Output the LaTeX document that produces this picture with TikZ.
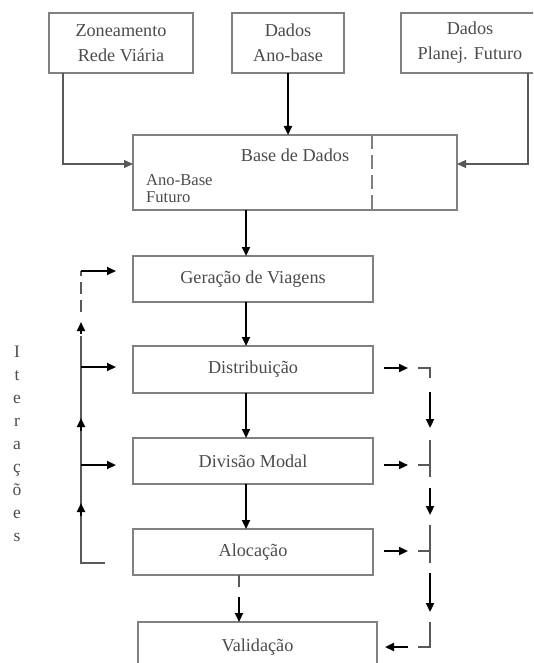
\documentclass[tikz,border=0pt]{standalone}
\usepackage{fontspec}
\setmainfont{Liberation Serif}
\usetikzlibrary{arrows.meta,calc}
\definecolor{boxline}{gray}{0.5}
\definecolor{txt}{gray}{0.3}
\definecolor{thinline}{gray}{0.35}
\begin{document}
\begin{tikzpicture}[x=1pt,y=-1pt,
  box/.style={draw=boxline,line width=1.3pt,rectangle,inner sep=0pt,outer sep=0pt,
    text=txt,font=\fontsize{18.2}{25}\selectfont,align=center},
  link/.style={draw=thinline,line width=1.2pt},
  feed/.style={link,-{Triangle[length=9pt,width=8pt]}},
  bold/.style={draw=black,line width=2.2pt,-{Triangle[length=9pt,width=8pt]}},
  dashlink/.style={link,dash pattern=on 12pt off 6pt},
  label/.style={text=txt,inner sep=0pt}]
\useasboundingbox (0,0) rectangle (533,663);
\fill[white] (0,0) rectangle (533,663);
\clip (0,0) rectangle (533,663);

% input boxes
\node[box,minimum width=144pt,minimum height=60pt] (zon) at (121,43) {Zoneamento\\Rede Viária};
\node[box,minimum width=112pt,minimum height=60pt] (anob) at (288,43) {Dados\\Ano-base};
\node[box,minimum width=138pt,minimum height=60pt] (plan) at (470,43) {Dados\\Planej. Futuro};

% data base
\node[box,minimum width=324pt,minimum height=75pt] (base) at (295,172.5) {};
\node[label,anchor=base,font=\fontsize{18.2}{20}\selectfont] (basetitle) at (295,161) {Base de Dados};
\node[label,anchor=base west,font=\fontsize{16.6}{18}\selectfont] (anobase) at (146,185) {Ano-Base};
\node[label,anchor=base west,font=\fontsize{16.6}{18}\selectfont] (futuro) at (146,202) {Futuro};
\coordinate (split) at (372,0);
\draw[draw=boxline,line width=1.2pt,dash pattern=on 14pt off 6pt] (base.north -| split) -- (base.south -| split);

% model stages
\node[box,minimum width=240pt,minimum height=46pt] (ger) at (253,279) {Geração de Viagens};
\node[box,minimum width=240pt,minimum height=47pt] (dist) at (253,369.5) {Distribuição};
\node[box,minimum width=240pt,minimum height=46pt] (div) at (253,461) {Divisão Modal};
\node[box,minimum width=240pt,minimum height=46pt] (aloc) at (253,552) {Alocação};
\node[box,minimum width=239pt,minimum height=50pt] (val) at (257.5,647) {Validação};

% vertical label
\foreach \ch [count=\i from 0] in {I,t,e,r,a,ç,õ,e,s}
  \node[label,anchor=base,font=\fontsize{17.5}{20}\selectfont] (iter\i) at (17,{357+23.1*\i}) {\ch};

% inputs into the data base
\coordinate (zonturn) at (63,164);
\coordinate (planturn) at (528,164);
\draw[feed] (zon.south -| zonturn) -- (zonturn) -- (base.west |- zonturn);
\draw[feed] (plan.south -| planturn) -- (planturn) -- (base.east |- planturn);
\draw[bold] (anob.south) -- (anob.south |- base.north);

% main sequence
\coordinate (spine) at (246,0);
\draw[bold] (base.south -| spine) -- (ger.north -| spine);
\draw[bold] (ger.south -| spine) -- (dist.north -| spine);
\draw[bold] (dist.south -| spine) -- (div.north -| spine);
\draw[bold] (div.south -| spine) -- (aloc.north -| spine);
\coordinate (vcol) at (239,0);
\draw[dashlink] (aloc.south -| vcol) -- ++(0,15);
\draw[bold] ($(val.north -| vcol)+(0,-25)$) -- (val.north -| vcol);

% iteration loop (left)
\coordinate (loopend) at (105,563);
\coordinate (loopcorner) at (81,563);
\coordinate (looptop) at (81,271);
\coordinate (loopdist) at (81,367);
\coordinate (loopdiv) at (81,465);
\draw[link] (loopend) -- (loopcorner) -- (81,336);
\draw[bold] (81,516) -- (81,503);
\draw[bold] (81,431) -- (81,418);
\draw[bold] (81,334) -- (81,322);
\draw[dashlink] (81,312) -- (looptop);
\draw[bold,shorten >=17pt] (looptop) -- (ger.west |- looptop);
\draw[bold,shorten >=17pt] (loopdist) -- (dist.west |- loopdist);
\draw[bold,shorten >=17pt] (loopdiv) -- (div.west |- loopdiv);

% results towards validation (right)
\draw[bold] ($(dist.east)+(11,-1.5)$) -- ++(24,0);
\draw[bold] ($(div.east)+(11,4)$) -- ++(24,0);
\draw[bold] ($(aloc.east)+(11,-1)$) -- ++(24,0);
\coordinate (rtop) at (430,368);
\coordinate (rbot) at (430,647);
\draw[link] (418,368) -- (rtop) -- (430,378);
\draw[bold] (430,392) -- (430,428);
\draw[link] (430,440) -- (430,477);
\draw[link] (418,465) -- (430,465);
\draw[bold] (430,488) -- (430,515);
\draw[link] (430,525) -- (430,563);
\draw[link] (418,551) -- (430,551);
\draw[bold] (430,573) -- (430,612);
\draw[link] (430,622) -- (rbot) -- (418,647);
\draw[bold,shorten >=8pt] (408,647) -- (val.east |- rbot);
\end{tikzpicture}
\end{document}
